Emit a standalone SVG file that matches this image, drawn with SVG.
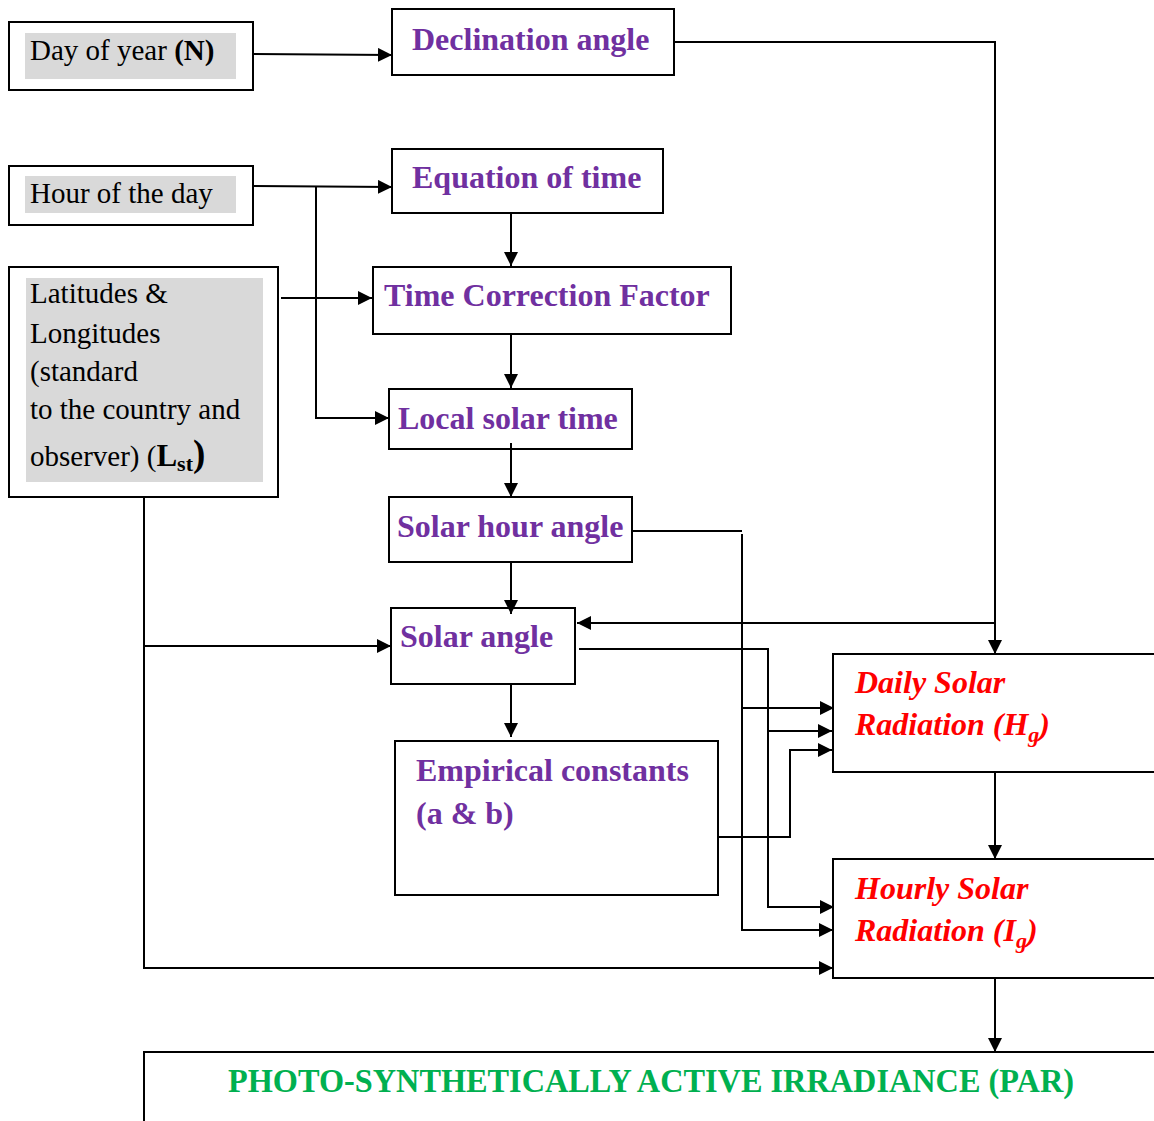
<svg xmlns="http://www.w3.org/2000/svg" width="1154" height="1121" viewBox="0 0 1154 1121">
<style>
.box{fill:#fff;stroke:#000;stroke-width:2}
.gray{fill:#d9d9d9;stroke:none}
text{font-family:'Liberation Serif','Times New Roman',serif}
.in{font-size:29px;fill:#000}
.pu{font-size:32px;font-weight:bold;fill:#7030a0}
.rd{font-size:32px;font-weight:bold;font-style:italic;fill:#ff0000}
.gr{font-size:33px;font-weight:bold;fill:#00b050}
.c{fill:none;stroke:#000;stroke-width:2}
</style>
<defs>
<marker id="a" markerUnits="userSpaceOnUse" markerWidth="16" markerHeight="14" refX="14" refY="7" orient="auto">
<path d="M0,0 L14,7 L0,14 z" fill="#000"/>
</marker>
</defs>
<rect width="1154" height="1121" fill="#fff"/>
<g id="n-day">
<rect class="box" x="9" y="22" width="244" height="68"/>
<rect class="gray" x="25" y="33" width="211" height="46"/>
<text class="in" x="30" y="60">Day of year <tspan font-weight="bold">(N)</tspan></text>
</g>
<g id="n-hour">
<rect class="box" x="9" y="166" width="244" height="59"/>
<rect class="gray" x="25" y="176" width="211" height="37"/>
<text class="in" x="30" y="203">Hour of the day</text>
</g>
<g id="n-lat">
<rect class="box" x="9" y="267" width="269" height="230"/>
<rect class="gray" x="26" y="278" width="237" height="204"/>
<text class="in" x="30" y="303">Latitudes &amp;</text>
<text class="in" x="30" y="343">Longitudes</text>
<text class="in" x="30" y="381">(standard</text>
<text class="in" x="30" y="419">to the country and</text>
<text class="in" x="30" y="466">observer) (<tspan font-weight="bold" font-size="31">L</tspan><tspan font-weight="bold" font-size="22" dy="5">st</tspan><tspan font-weight="bold" font-size="37" dy="-5">)</tspan></text>
</g>
<g id="n-decl">
<rect class="box" x="392" y="9" width="282" height="66"/>
<text class="pu" x="412" y="50">Declination angle</text>
</g>
<g id="n-eot">
<rect class="box" x="392" y="149" width="271" height="64"/>
<text class="pu" x="412" y="188">Equation of time</text>
</g>
<g id="n-tcf">
<rect class="box" x="373" y="267" width="358" height="67"/>
<text class="pu" x="384" y="306">Time Correction Factor</text>
</g>
<g id="n-lst">
<rect class="box" x="389" y="389" width="243" height="60"/>
<text class="pu" x="398" y="429">Local solar time</text>
</g>
<g id="n-sha">
<rect class="box" x="389" y="497" width="243" height="65"/>
<text class="pu" x="397" y="537">Solar hour angle</text>
</g>
<g id="n-sa">
<rect class="box" x="391" y="608" width="184" height="76"/>
<text class="pu" x="400" y="647">Solar angle</text>
</g>
<g id="n-emp">
<rect class="box" x="395" y="741" width="323" height="154"/>
<text class="pu" x="416" y="781">Empirical constants</text>
<text class="pu" x="416" y="824">(a &amp; b)</text>
</g>
<g id="n-daily">
<rect class="box" x="833" y="654" width="330" height="118"/>
<text class="rd" x="855" y="693">Daily Solar</text>
<text class="rd" x="855" y="735">Radiation (H<tspan font-size="22" dy="7">g</tspan><tspan dy="-7">)</tspan></text>
</g>
<g id="n-hourly">
<rect class="box" x="833" y="859" width="330" height="119"/>
<text class="rd" x="855" y="899">Hourly Solar</text>
<text class="rd" x="855" y="941">Radiation (I<tspan font-size="22" dy="7">g</tspan><tspan dy="-7">)</tspan></text>
</g>
<g id="n-par">
<rect class="box" x="144" y="1052" width="1030" height="90"/>
<text class="gr" x="228" y="1092" textLength="846" lengthAdjust="spacingAndGlyphs">PHOTO-SYNTHETICALLY ACTIVE IRRADIANCE (PAR)</text>
</g>
<g id="connectors">
<path class="c" d="M253,54 L392,55" marker-end="url(#a)"/>
<path class="c" d="M253,186 L392,187" marker-end="url(#a)"/>
<path class="c" d="M316,186 L316,418 L389,418" marker-end="url(#a)"/>
<path class="c" d="M281,298 L372,298" marker-end="url(#a)"/>
<path class="c" d="M511,213 L511,266" marker-end="url(#a)"/>
<path class="c" d="M511,334 L511,388" marker-end="url(#a)"/>
<path class="c" d="M511,443 L511,497" marker-end="url(#a)"/>
<path class="c" d="M511,562 L511,614" marker-end="url(#a)"/>
<path class="c" d="M511,684 L511,737" marker-end="url(#a)"/>
<path class="c" d="M144,497 L144,968 L833,968" marker-end="url(#a)"/>
<path class="c" d="M144,646 L391,646" marker-end="url(#a)"/>
<path class="c" d="M674,42 L995,42 L995,654" marker-end="url(#a)"/>
<path class="c" d="M995,623 L577,623" marker-end="url(#a)"/>
<path class="c" d="M632,531 L742,531 M742,534 L742,930 L833,930" marker-end="url(#a)"/>
<path class="c" d="M742,708 L834,708" marker-end="url(#a)"/>
<path class="c" d="M579,649 L768,649 L768,907 L834,907" marker-end="url(#a)"/>
<path class="c" d="M768,731 L832,731" marker-end="url(#a)"/>
<path class="c" d="M718,837 L790,837 L790,750 L832,750" marker-end="url(#a)"/>
<path class="c" d="M995,772 L995,859" marker-end="url(#a)"/>
<path class="c" d="M995,978 L995,1052" marker-end="url(#a)"/>
</g>
</svg>
